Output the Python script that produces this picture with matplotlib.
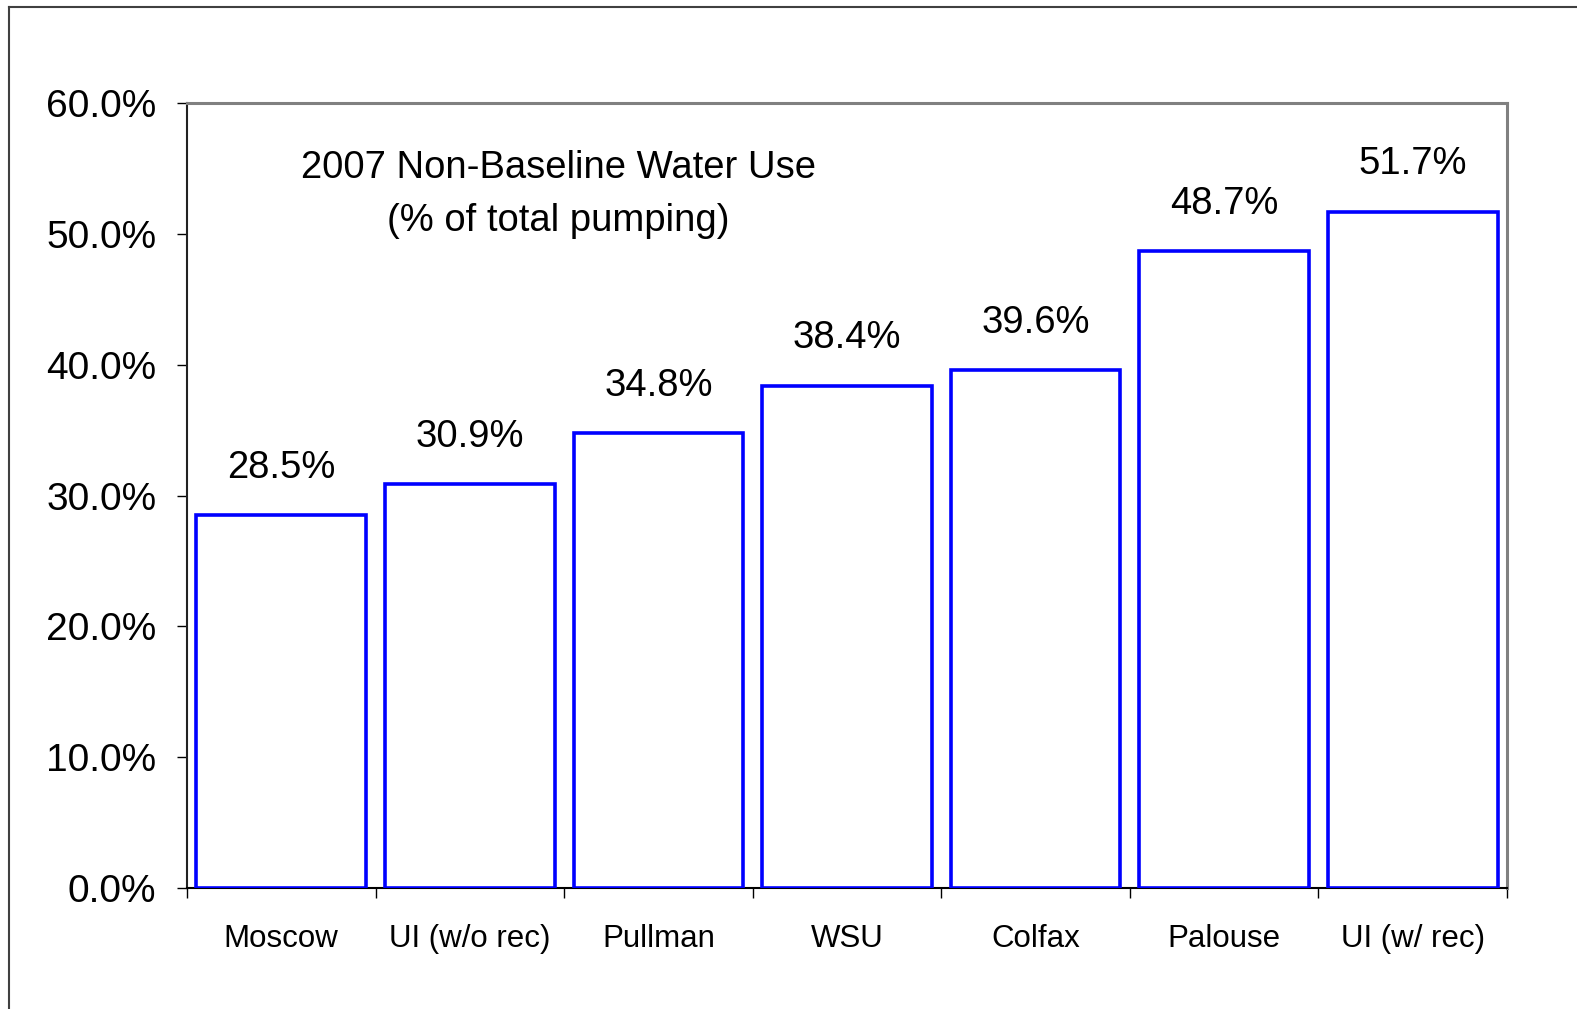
import numpy as np
import matplotlib
matplotlib.use("Agg")
import matplotlib.pyplot as plt
from matplotlib.lines import Line2D
from matplotlib.ticker import FuncFormatter

plt.rcParams['font.family'] = ['Liberation Sans', 'DejaVu Sans']

# data
places = ['Moscow', 'UI (w/o rec)', 'Pullman', 'WSU', 'Colfax', 'Palouse', 'UI (w/ rec)']
pct = [28.5, 30.9, 34.8, 38.4, 39.6, 48.7, 51.7]
labels = ['28.5%', '30.9%', '34.8%', '38.4%', '39.6%', '48.7%', '51.7%']
yticks = [0, 10, 20, 30, 40, 50, 60]

fig = plt.figure(figsize=(15.77, 10.09), dpi=100)
ax = fig.add_axes([187 / 1577, 1 - 888 / 1009, 1320 / 1577, 785 / 1009])

x = np.arange(len(places))
ax.bar(x, pct, width=0.90, color='white', edgecolor='#0000ff', linewidth=2.6, zorder=3)

for xi, v, lab in zip(x, pct, labels):
    ax.text(xi, v + 3.6, lab, ha='center', va='center', fontsize=27.5, color='black')

ax.text(1.47, 53.0, '2007 Non-Baseline Water Use\n(% of total pumping)',
        ha='center', va='center', fontsize=27.5, linespacing=1.6)

ax.set_xlim(-0.5, 6.5)
ax.set_ylim(0, 60)
ax.set_yticks(yticks)
ax.yaxis.set_major_formatter(FuncFormatter(lambda v, p: '%.1f%%' % v))
ax.tick_params(axis='y', direction='out', length=7, width=1, pad=15, labelsize=28)

ax.set_xticks(x)
ax.set_xticklabels(places)
ax.tick_params(axis='x', which='major', length=0, pad=26, labelsize=22.5)
ax.set_xticks(np.arange(-0.5, 7.0, 1.0), minor=True)
ax.tick_params(axis='x', which='minor', direction='out', length=7, width=1)

ax.spines['left'].set_color('#222222')
ax.spines['left'].set_linewidth(1.5)
ax.spines['bottom'].set_color('black')
ax.spines['bottom'].set_linewidth(1.5)
for s in ['top', 'right']:
    ax.spines[s].set_color('#808080')
    ax.spines[s].set_linewidth(2.2)

# outer frame (only top and left edges visible)
fig.add_artist(Line2D([9 / 1577, 9 / 1577], [0, 1 - 7 / 1009], color='#404040', lw=1.5))
fig.add_artist(Line2D([9 / 1577, 1], [1 - 7 / 1009, 1 - 7 / 1009], color='#404040', lw=1.5))

fig.savefig('out.png', dpi=100)
